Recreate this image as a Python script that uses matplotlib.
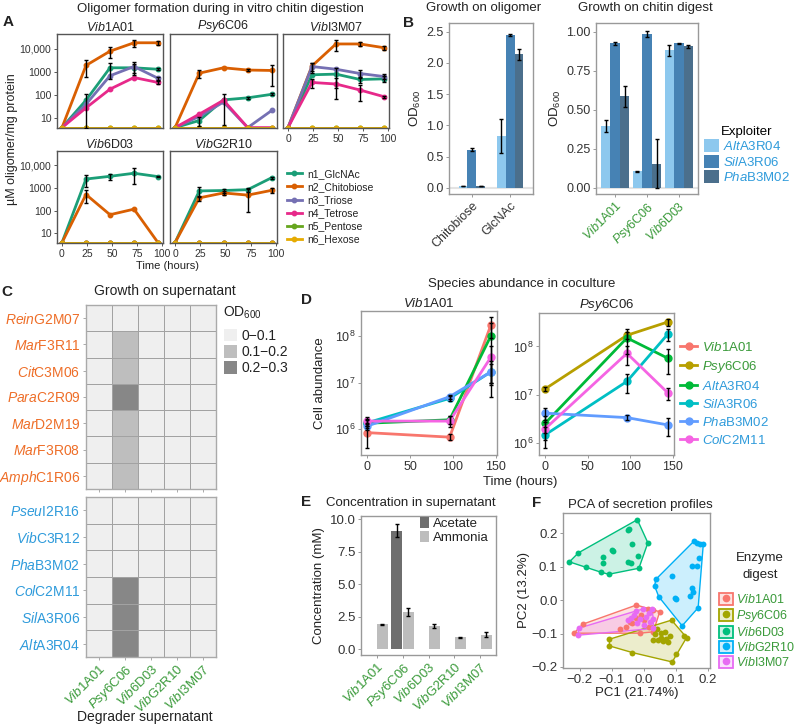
import numpy as np
import matplotlib
matplotlib.use('Agg')
import matplotlib.pyplot as plt
from matplotlib.patches import Patch
from matplotlib.lines import Line2D
from matplotlib.colors import ListedColormap, to_rgba

plt.rcParams['font.family'] = ['Liberation Sans', 'DejaVu Sans']
plt.rcParams['mathtext.fontset'] = 'custom'
plt.rcParams['mathtext.rm'] = 'Liberation Sans'
plt.rcParams['mathtext.it'] = 'Liberation Sans:italic'
plt.rcParams['mathtext.bf'] = 'Liberation Sans:bold'

# ---------------------------------------------------
# Data
# ---------------------------------------------------
# A: oligomer (uM / mg protein), one row per oligomer, columns = time_a
time_a = [0, 24, 48, 72, 96]
oligomers = ['n1_GlcNAc', 'n2_Chitobiose', 'n3_Triose', 'n4_Tetrose', 'n5_Pentose', 'n6_Hexose']
zeros5 = [0, 0, 0, 0, 0]

vib1a01_olig = [[0, 60, 1500, 1500, 1300],
                [0, 1900, 7800, 18000, 18000],
                [0, 40, 680, 1700, 530],
                [0, 28, 180, 570, 350],
                zeros5, zeros5]
vib1a01_olig_sd = [[0, 0, 1000, 600, 150],
                   [0, 1300, 4000, 6000, 3500],
                   [0, 70, 0, 1000, 100],
                   [0, 0, 0, 0, 60],
                   zeros5, zeros5]

psy6c06_olig = [[0, 8, 62, 76, 108],
                [0, 880, 1500, 1200, 1150],
                [0, 12, 50, 0, 22],
                [0, 15, 60, 0, 0],
                zeros5, zeros5]
psy6c06_olig_sd = [[0, 3.5, 0, 8, 10],
                   [0, 350, 0, 150, 900],
                   zeros5,
                   [0, 0, 55, 0, 0],
                   zeros5, zeros5]

vibi3m07_olig = [[0, 750, 800, 470, 500],
                 [0, 1800, 16000, 16000, 11000],
                 [0, 1700, 1300, 850, 630],
                 [0, 350, 300, 165, 85],
                 zeros5, zeros5]
vibi3m07_olig_sd = [[0, 0, 600, 150, 150],
                    [0, 700, 8000, 2500, 2000],
                    [0, 800, 0, 300, 150],
                    [0, 150, 230, 110, 10],
                    zeros5, zeros5]

vib6d03_olig = [[0, 2500, 3300, 4500, 3200],
                [0, 520, 67, 118, 0],
                zeros5, zeros5, zeros5, zeros5]
vib6d03_olig_sd = [[0, 1400, 1000, 3000, 200],
                   [0, 300, 0, 0, 0],
                   zeros5, zeros5, zeros5, zeros5]

vibg2r10_olig = [[0, 750, 780, 850, 2900],
                 [0, 370, 610, 490, 800],
                 zeros5, zeros5, zeros5, zeros5]
vibg2r10_olig_sd = [[0, 350, 150, 150, 300],
                    [0, 100, 100, 400, 200],
                    zeros5, zeros5, zeros5, zeros5]

# B: OD600 of exploiters, one row per exploiter
exploiters = ['AltA3R04', 'SilA3R06', 'PhaB3M02']
oligo_substrates = ['Chitobiose', 'GlcNAc']
oligo_od = [[0.03, 0.83], [0.61, 2.45], [0.03, 2.14]]
oligo_sd = [[0.004, 0.27], [0.02, 0.02], [0.004, 0.09]]
digest_substrates = ['Vib1A01', 'Psy6C06', 'Vib6D03']
digest_od = [[0.395, 0.105, 0.88], [0.925, 0.985, 0.925], [0.585, 0.155, 0.908]]
digest_sd = [[0.04, 0.004, 0.035], [0.01, 0.02, 0.004], [0.07, 0.155, 0.01]]

# C: OD600 bin (0: 0-0.1, 1: 0.1-0.2, 2: 0.2-0.3)
c_donors = ['Vib1A01', 'Psy6C06', 'Vib6D03', 'VibG2R10', 'VibI3M07']
c_orange_strains = ['ReinG2M07', 'MarF3R11', 'CitC3M06', 'ParaC2R09', 'MarD2M19', 'MarF3R08', 'AmphC1R06']
c_blue_strains = ['PseuI2R16', 'VibC3R12', 'PhaB3M02', 'ColC2M11', 'SilA3R06', 'AltA3R04']
od_bins = ['0\u22120.1', '0.1\u22120.2', '0.2\u22120.3']
c_orange_bin = [[0, 0, 0, 0, 0], [0, 1, 0, 0, 0], [0, 1, 0, 0, 0], [0, 2, 0, 0, 0],
                [0, 1, 0, 0, 0], [0, 1, 0, 0, 0], [0, 1, 0, 0, 0]]
c_blue_bin = [[0, 0, 0, 0, 0], [0, 0, 0, 0, 0], [0, 0, 0, 0, 0],
              [0, 2, 0, 0, 0], [0, 2, 0, 0, 0], [0, 2, 0, 0, 0]]

# D: cell abundance in coculture, one row per species, columns = d_time
d_time = [0, 96, 144]
d_species = ['Vib1A01', 'Psy6C06', 'AltA3R04', 'SilA3R06', 'PhaB3M02', 'ColC2M11']
nan3 = [np.nan, np.nan, np.nan]
d_vib1a01 = [[8.5e5, 6.8e5, 1.7e8], nan3, [1.35e6, 1.6e6, 1.0e8],
             [1.38e6, 4.6e6, 1.7e7], [1.17e6, 5.0e6, 1.7e7], [1.5e6, 1.5e6, 3.5e7]]
d_vib1a01_sd = [[4.5e5, 1e5, 0.8e8], nan3, [3e5, 3e5, 0.9e8],
                [2e5, 5e5, 1.2e7], [2e5, 5e5, 8e6], [3e5, 4e5, 2.5e7]]
d_psy6c06 = [nan3, [1.33e7, 1.7e8, 3.2e8], [2.6e6, 1.5e8, 5.7e7],
             [1.5e6, 1.9e7, 1.8e8], [4.2e6, 3.4e6, 2.4e6], [2.0e6, 7.2e7, 1.1e7]]
d_psy6c06_sd = [nan3, [1.5e6, 3e7, 5e7], [1e6, 8e7, 3e7],
                [7e5, 8e6, 5e7], [1.2e6, 4e5, 1e6], [8e5, 3e7, 3e6]]

# E: concentration in supernatant (mM)
e_strains = ['Vib1A01', 'Psy6C06', 'Vib6D03', 'VibG2R10', 'VibI3M07']
acetate_mm = [0, 9.1, 0, 0, 0]
acetate_sd = [0, 0.5, 0, 0, 0]
ammonia_mm = [1.9, 2.85, 1.8, 0.9, 1.1]
ammonia_sd = [0.05, 0.3, 0.15, 0.05, 0.2]

# F: PCA scores per enzyme digest
f_groups = ['Vib1A01', 'Psy6C06', 'Vib6D03', 'VibG2R10', 'VibI3M07']
pc_vib1a01 = [(-0.218, -0.099), (-0.190, -0.072), (-0.023, -0.015), (0.014, -0.028), (0.029, -0.030),
              (0.050, -0.035), (-0.054, -0.082), (-0.075, -0.087), (-0.044, -0.065), (-0.023, -0.055),
              (0.018, -0.080), (-0.012, -0.099), (-0.035, -0.070), (0.000, -0.060), (0.030, -0.095),
              (-0.008, -0.045)]
pc_psy6c06 = [(-0.107, -0.117), (-0.107, -0.137), (-0.035, -0.157), (0.089, -0.185), (0.100, -0.160),
              (0.134, -0.112), (0.127, -0.108), (0.087, -0.060), (0.040, -0.087), (0.035, -0.101),
              (0.044, -0.120), (0.054, -0.113), (0.059, -0.123), (0.069, -0.116), (0.055, -0.098),
              (0.081, -0.106), (0.065, -0.095), (0.030, -0.120), (0.075, -0.125)]
pc_vib6d03 = [(-0.232, 0.114), (-0.204, 0.141), (-0.180, 0.099), (-0.133, 0.083), (-0.109, 0.077),
              (-0.128, 0.129), (-0.128, 0.111), (-0.100, 0.148), (-0.096, 0.145), (-0.049, 0.210),
              (-0.045, 0.213), (-0.020, 0.240), (-0.035, 0.166), (0.013, 0.171), (-0.049, 0.113),
              (-0.018, 0.131), (-0.015, 0.095), (-0.040, 0.110)]
pc_vibg2r10 = [(0.157, 0.176), (0.165, 0.169), (0.186, 0.166), (0.176, 0.168), (0.151, 0.101),
               (0.165, 0.101), (0.172, 0.126), (0.038, 0.062), (0.034, 0.042), (0.047, 0.010),
               (0.087, 0.071), (0.098, 0.006), (0.100, 0.004), (0.144, 0.012), (0.151, 0.036),
               (0.154, 0.024), (0.170, -0.023), (0.120, -0.077)]
pc_vibi3m07 = [(-0.203, -0.084), (-0.205, -0.105), (-0.025, -0.033), (-0.003, -0.027), (0.026, -0.027),
               (0.030, -0.057), (0.030, -0.085), (-0.039, -0.054), (-0.013, -0.058), (0.008, -0.050),
               (-0.030, -0.045), (0.015, -0.040), (-0.020, -0.070), (-0.050, -0.060), (0.000, -0.075),
               (0.020, -0.065)]

# ---------------------------------------------------
# Styles
# ---------------------------------------------------
olig_colors = ['#1B9E77', '#D95F02', '#7570B3', '#E7298A', '#66A61E', '#E6AB02']
exploiter_colors = ['#8DC8EE', '#4682B4', '#4B6F8C']
od_colors = ['#EFEFEF', '#BEBEBE', '#878787']
d_colors = ['#F8766D', '#B79F00', '#00BA38', '#00BFC4', '#619CFF', '#F564E3']
f_colors = ['#F8766D', '#A3A500', '#00BF7D', '#00B0F6', '#E76BF3']
ORANGE, BLUE, GREEN = '#EE6E28', '#2F9BDB', '#3A9A3A'
TXT = '#222222'

W, H = 800, 726
fig = plt.figure(figsize=(W / 100, H / 100), dpi=100)


def add_ax(x0, y0, x1, y1):
    return fig.add_axes([x0 / W, 1 - y1 / H, (x1 - x0) / W, (y1 - y0) / H])


def put(x, y, s, **kw):
    kw.setdefault('ha', 'center')
    kw.setdefault('va', 'center')
    kw.setdefault('color', TXT)
    fig.text(x / W, 1 - y / H, s, **kw)


def fig_anchor(x, y):
    return (x / W, 1 - y / H)


def strain_label(name):
    i = 1
    while i < len(name) and name[i].islower():
        i += 1
    return r'$\mathit{' + name[:i] + '}$' + name[i:]


def style(ax, edge='#999999', size=9):
    for sp in ax.spines.values():
        sp.set_color(edge)
        sp.set_linewidth(1.0)
    ax.tick_params(length=2.5, width=0.7, color=edge, labelsize=size, pad=1.5, labelcolor='#333333')
    ax.minorticks_off()


def convex_hull(pts):
    pts = sorted(set(pts))

    def cross(o, a, b):
        return (a[0] - o[0]) * (b[1] - o[1]) - (a[1] - o[1]) * (b[0] - o[0])
    lower, upper = [], []
    for p in pts:
        while len(lower) >= 2 and cross(lower[-2], lower[-1], p) <= 0:
            lower.pop()
        lower.append(p)
    for p in reversed(pts):
        while len(upper) >= 2 and cross(upper[-2], upper[-1], p) <= 0:
            upper.pop()
        upper.append(p)
    return np.array(lower[:-1] + upper[:-1])


# ---------------------------------------------------
# A: oligomer formation
# ---------------------------------------------------
ylo_a, yhi_a = 3.8, 43000
a_panels = [
    ('Vib1A01', vib1a01_olig, vib1a01_olig_sd, (57, 34, 163, 128), True, False),
    ('Psy6C06', psy6c06_olig, psy6c06_olig_sd, (170, 34, 277, 128), False, False),
    ('VibI3M07', vibi3m07_olig, vibi3m07_olig_sd, (283, 34, 389, 128), False, True),
    ('Vib6D03', vib6d03_olig, vib6d03_olig_sd, (57, 151, 163, 243), True, True),
    ('VibG2R10', vibg2r10_olig, vibg2r10_olig_sd, (170, 151, 277, 243), False, True),
]
for name, vals, sds, box, ylab, xlab in a_panels:
    ax = add_ax(*box)
    ax.set_yscale('log')
    for k in range(len(oligomers)):
        v = np.clip(np.array(vals[k], float), ylo_a * 1.04, None)
        ax.plot(time_a, v, color=olig_colors[k], lw=2.0, marker='o', ms=3.2, zorder=2 + k * 0.1)
    for k in range(len(oligomers)):
        v = np.array(vals[k], float)
        s = np.array(sds[k], float)
        m = s > 0
        if m.any():
            lo = np.clip(v[m] - s[m], ylo_a, None)
            ax.errorbar(np.array(time_a)[m], v[m], yerr=[v[m] - lo, s[m]], fmt='none',
                        ecolor='black', elinewidth=1.0, capsize=1.5, capthick=1.0, zorder=5)
    ax.set_ylim(ylo_a, yhi_a)
    ax.set_xlim(-5, 101)
    style(ax, edge='#555555', size=7.5)
    ax.set_yticks([10, 100, 1000, 10000])
    ax.set_xticks([0, 25, 50, 75, 100])
    if ylab:
        ax.set_yticklabels(['10', '100', '1000', '10,000'])
    else:
        ax.tick_params(axis='y', left=False, labelleft=False)
    if not xlab:
        ax.tick_params(axis='x', bottom=False, labelbottom=False)
    ax.set_title(strain_label(name), fontsize=9, pad=2.5, color=TXT)

put(220, 9, 'Oligomer formation during in vitro chitin digestion', fontsize=9.5)
put(8, 22, 'A', fontsize=11, fontweight='bold')
put(12, 139, '\u00b5M oligomer/mg protein', fontsize=9, rotation=90)
put(167, 266, 'Time (hours)', fontsize=8)
handles_a = [Line2D([], [], color=c, lw=2, marker='o', ms=3.2) for c in olig_colors]
fig.legend(handles_a, oligomers, loc='upper left', bbox_to_anchor=fig_anchor(287, 169),
           frameon=False, fontsize=7.5, handlelength=1.4, handletextpad=0.5,
           labelspacing=0.3, borderpad=0, borderaxespad=0, labelcolor=TXT)

# ---------------------------------------------------
# B: exploiter growth
# ---------------------------------------------------
b_panels = [
    ('Growth on oligomer', oligo_substrates, oligo_od, oligo_sd, (449, 23, 533, 194), 0.7,
     (-0.1, 2.64), [0, 0.5, 1.0, 1.5, 2.0, 2.5], '%.1f', False, 484),
    ('Growth on chitin digest', digest_substrates, digest_od, digest_sd, (596, 23, 698, 194), 0.9,
     (-0.04, 1.056), [0, 0.25, 0.5, 0.75, 1.0], '%.2f', True, 645),
]
for title, cats, od, sd, box, group_w, ylim, yt, fmt, strain_cats, tx in b_panels:
    ax = add_ax(*box)
    x = np.arange(len(cats))
    bw = group_w / len(exploiters)
    ax.axhline(0, color='#E3E3E3', lw=1.5, zorder=0)
    for j in range(len(exploiters)):
        xs = x - group_w / 2 + bw * (j + 0.5)
        ax.bar(xs, od[j], width=bw, color=exploiter_colors[j], zorder=2)
        ax.errorbar(xs, od[j], yerr=sd[j], fmt='none', ecolor='black', elinewidth=1.0,
                    capsize=1.2, capthick=1.0, zorder=3)
    ax.set_xlim(-0.6, len(cats) - 0.4)
    ax.set_ylim(*ylim)
    ax.set_yticks(yt)
    ax.set_yticklabels([fmt % v for v in yt])
    style(ax, size=9)
    ax.set_xticks(x)
    if strain_cats:
        ax.set_xticklabels([strain_label(c) for c in cats], rotation=45, ha='right',
                           rotation_mode='anchor', color=GREEN, fontsize=9)
    else:
        ax.set_xticklabels(cats, rotation=45, ha='right', rotation_mode='anchor', fontsize=9)
    ax.set_ylabel('OD$_{600}$', fontsize=9.5, labelpad=2, color=TXT)
    put(tx, 8, title, fontsize=9.5)

put(409, 23, 'B', fontsize=11, fontweight='bold')
handles_b = [Patch(facecolor=c, edgecolor='none') for c in exploiter_colors]
fig.legend(handles_b, [strain_label(s) for s in exploiters], loc='upper left',
           bbox_to_anchor=fig_anchor(704, 126), frameon=False, title='Exploiter',
           fontsize=9.5, title_fontsize=9.5, handlelength=1.15, handleheight=1.15,
           handletextpad=0.3, labelspacing=0.1, borderpad=0, borderaxespad=0,
           labelcolor=BLUE, alignment='center')

# ---------------------------------------------------
# C: growth on supernatant heatmap
# ---------------------------------------------------
od_cmap = ListedColormap(od_colors)
c_panels = [(c_orange_strains, c_orange_bin, (86, 305, 216, 489), ORANGE, False),
            (c_blue_strains, c_blue_bin, (86, 497, 216, 657), BLUE, True)]
for strains, bins, box, col, xlab in c_panels:
    ax = add_ax(*box)
    nr, nc = len(strains), len(c_donors)
    ax.pcolormesh(np.arange(nc + 1) - 0.5, np.arange(nr + 1) - 0.5, np.array(bins),
                  cmap=od_cmap, vmin=-0.5, vmax=2.5, edgecolors='#A2A2A2', linewidth=0.6)
    ax.set_xlim(-0.5, nc - 0.5)
    ax.set_ylim(nr - 0.5, -0.5)
    style(ax, edge='#AAAAAA', size=10)
    ax.set_yticks(np.arange(nr))
    ax.set_yticklabels([strain_label(s) for s in strains], color=col, fontsize=10)
    ax.set_xticks(np.arange(nc))
    if xlab:
        ax.set_xticklabels([strain_label(s) for s in c_donors], rotation=45, ha='right',
                           rotation_mode='anchor', color=GREEN, fontsize=9.5)
    else:
        ax.tick_params(axis='x', labelbottom=False)

put(7, 292, 'C', fontsize=11, fontweight='bold')
put(165, 291, 'Growth on supernatant', fontsize=10)
put(145, 717, 'Degrader supernatant', fontsize=10)
put(223, 313, 'OD$_{600}$', fontsize=10, ha='left')
handles_c = [Patch(facecolor=c, edgecolor='none') for c in od_colors]
fig.legend(handles_c, od_bins, loc='upper left', bbox_to_anchor=fig_anchor(224, 329),
           frameon=False, fontsize=10, handlelength=0.95, handleheight=1.0,
           handletextpad=0.3, labelspacing=0.15, borderpad=0, borderaxespad=0, labelcolor=TXT)

# ---------------------------------------------------
# D: species abundance in coculture
# ---------------------------------------------------
d_panels = [('Vib1A01', d_vib1a01, d_vib1a01_sd, (361, 311, 497, 455), (10 ** 5.45, 10 ** 8.535)),
            ('Psy6C06', d_psy6c06, d_psy6c06_sd, (539, 313, 674, 455), (10 ** 5.76, 10 ** 8.69))]
for name, vals, sds, box, ylim in d_panels:
    ax = add_ax(*box)
    ax.set_yscale('log')
    for k in range(len(d_species)):
        v = np.array(vals[k], float)
        if np.isnan(v).all():
            continue
        ax.plot(d_time, v, color=d_colors[k], lw=2.0, marker='o', ms=5, zorder=2)
    for k in range(len(d_species)):
        v = np.array(vals[k], float)
        if np.isnan(v).all():
            continue
        s = np.array(sds[k], float)
        lo = np.clip(v - s, ylim[0], None)
        ax.errorbar(d_time, v, yerr=[v - lo, s], fmt='none', ecolor='black', elinewidth=1.0,
                    capsize=1.2, capthick=1.0, zorder=4)
    ax.set_ylim(*ylim)
    ax.set_xlim(-7.2, 151.2)
    style(ax, size=9)
    ax.set_yticks([1e6, 1e7, 1e8])
    ax.set_yticklabels([r'$10^{6}$', r'$10^{7}$', r'$10^{8}$'])
    ax.set_xticks([0, 50, 100, 150])
    ax.set_title(strain_label(name), fontsize=9.5, pad=3, color=TXT)

put(306, 300, 'D', fontsize=11, fontweight='bold')
put(522, 284, 'Species abundance in coculture', fontsize=9.5)
put(320, 383, 'Cell abundance', fontsize=9.5, rotation=90)
put(520, 482, 'Time (hours)', fontsize=9.5)
handles_d = [Line2D([], [], color=c, lw=2, marker='o', ms=5) for c in d_colors]
fig.legend(handles_d, [strain_label(s) for s in d_species], loc='upper left',
           bbox_to_anchor=fig_anchor(680, 341), frameon=False, fontsize=9.5,
           handlelength=1.3, handletextpad=0.4, labelspacing=0.38, borderpad=0,
           borderaxespad=0, labelcolor=[GREEN, GREEN, BLUE, BLUE, BLUE, BLUE])

# ---------------------------------------------------
# E: concentration in supernatant
# ---------------------------------------------------
ax = add_ax(361, 516, 496, 655)
x = np.arange(len(e_strains))
acet = np.array(acetate_mm)
amm = np.array(ammonia_mm)
has_ac = acet > 0
ax.bar(x[has_ac] - 0.225, acet[has_ac], width=0.42, color='#6E6E6E', zorder=2)
ax.bar(x + 0.225, amm, width=0.42, color='#BDBDBD', zorder=2)
ax.errorbar(x[has_ac] - 0.225, acet[has_ac], yerr=np.array(acetate_sd)[has_ac], fmt='none',
            ecolor='black', elinewidth=1.0, capsize=1.2, capthick=1.0, zorder=3)
ax.errorbar(x + 0.225, amm, yerr=ammonia_sd, fmt='none', ecolor='black', elinewidth=1.0,
            capsize=1.2, capthick=1.0, zorder=3)
ax.set_xlim(-0.6, len(e_strains) - 0.4)
ax.set_ylim(-0.45, 10.25)
ax.set_yticks([0, 2.5, 5, 7.5, 10])
ax.set_yticklabels(['0.0', '2.5', '5.0', '7.5', '10.0'])
style(ax, size=9.5)
ax.set_xticks(x)
ax.set_xticklabels([strain_label(s) for s in e_strains], rotation=45, ha='right',
                   rotation_mode='anchor', color=GREEN, fontsize=9.5)
ax.set_ylabel('Concentration (mM)', fontsize=9.5, labelpad=3, color=TXT)
fig.legend([Patch(facecolor='#6E6E6E'), Patch(facecolor='#BDBDBD')], ['Acetate', 'Ammonia'],
           loc='upper left', bbox_to_anchor=fig_anchor(420, 517), frameon=False, fontsize=9.5,
           handlelength=0.7, handleheight=0.95, handletextpad=0.3, labelspacing=0.05,
           borderpad=0, borderaxespad=0, labelcolor=TXT)
put(306, 502, 'E', fontsize=11, fontweight='bold')
put(411, 503, 'Concentration in supernatant', fontsize=9.5)

# ---------------------------------------------------
# F: PCA of secretion profiles
# ---------------------------------------------------
ax = add_ax(563, 513, 710, 668)
pcs = [pc_vib1a01, pc_psy6c06, pc_vib6d03, pc_vibg2r10, pc_vibi3m07]
for pts, c in zip(pcs, f_colors):
    hull = convex_hull(pts)
    ax.fill(hull[:, 0], hull[:, 1], facecolor=to_rgba(c, 0.2), edgecolor='none', zorder=1)
    closed = np.vstack([hull, hull[:1]])
    ax.plot(closed[:, 0], closed[:, 1], color=c, lw=1.0, zorder=2)
for pts, c in zip(pcs, f_colors):
    arr = np.array(pts)
    ax.scatter(arr[:, 0], arr[:, 1], s=18, color=c, zorder=3, linewidths=0)
ax.set_xlim(-0.252, 0.207)
ax.set_ylim(-0.203, 0.26)
ax.set_xticks([-0.2, -0.1, 0.0, 0.1, 0.2])
ax.set_yticks([-0.2, -0.1, 0.0, 0.1, 0.2])
ax.set_xticklabels(['\u22120.2', '\u22120.1', '0.0', '0.1', '0.2'])
ax.set_yticklabels(['\u22120.2', '\u22120.1', '0.0', '0.1', '0.2'])
style(ax, size=9.5)
ax.set_xlabel('PC1 (21.74%)', fontsize=9.5, labelpad=1, color=TXT)
ax.set_ylabel('PC2 (13.2%)', fontsize=9.5, labelpad=1, color=TXT)
put(537, 503, 'F', fontsize=11, fontweight='bold')
put(640, 505, 'PCA of secretion profiles', fontsize=9.5)
put(760, 558, 'Enzyme', fontsize=9.5)
put(760, 575, 'digest', fontsize=9.5)
handles_f = [(Patch(facecolor=to_rgba(c, 0.2), edgecolor=c, lw=1.3),
              Line2D([], [], ls='', marker='o', ms=4.5, color=c)) for c in f_colors]
fig.legend(handles_f, [strain_label(s) for s in f_groups], loc='upper left',
           bbox_to_anchor=fig_anchor(719, 593), frameon=False,
           fontsize=9, handlelength=1.1, handleheight=1.1,
           handletextpad=0.25, labelspacing=0.15, borderpad=0, borderaxespad=0,
           labelcolor=GREEN)

fig.savefig('out.png', dpi=100)
